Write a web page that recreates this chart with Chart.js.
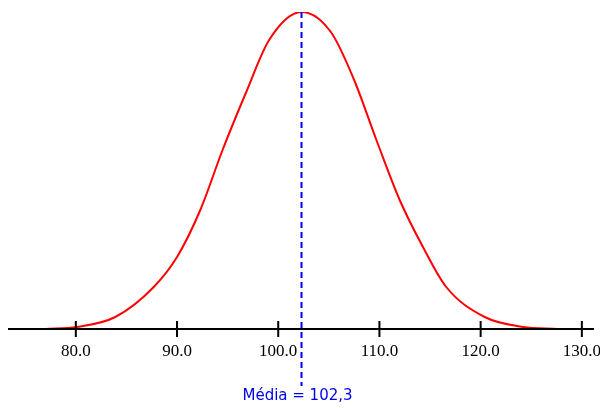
<!DOCTYPE html>
<html>
<head>
<meta charset="utf-8">
<script src="https://cdn.jsdelivr.net/npm/chart.js@4"></script>
<style>
  html, body { margin: 0; padding: 0; background: #fff; }
  #wrap { width: 600px; height: 408px; }
</style>
</head>
<body>
<div id="wrap"><canvas id="c"></canvas></div>
<script>
// values (x value, curve height)
const xValues = [77.0, 80.1, 83.9, 87.7, 90.0, 92.3, 94.5, 96.8, 99.1, 102.3, 105.2, 107.5, 109.7, 112.0, 114.3, 116.6, 120.4, 124.2, 127.6];
const heights = [0, 2, 12, 42, 72, 119, 179, 236, 289, 317, 297, 249, 189, 129, 82, 42, 12, 2, 0];
const tickValues = [80, 90, 100, 110, 120, 130];
const tickLabels = ["80.0", "90.0", "100.0", "110.0", "120.0", "130.0"];
const mean = 102.3;
const meanLabel = "Média = 102,3";

const axisPlugin = {
  id: "axisPlugin",
  afterDatasetsDraw(chart) {
    const ctx = chart.ctx;
    const x = chart.scales.x, y = chart.scales.y;
    const base = y.getPixelForValue(0);
    ctx.save();
    ctx.strokeStyle = "#000";
    ctx.lineWidth = 2;
    ctx.beginPath();
    ctx.moveTo(8, base);
    ctx.lineTo(594, base);
    tickValues.forEach(v => {
      const px = x.getPixelForValue(v);
      ctx.moveTo(px, base - 8);
      ctx.lineTo(px, base + 8);
    });
    ctx.stroke();
    ctx.fillStyle = "#000";
    ctx.font = "17px 'Liberation Serif'";
    ctx.textAlign = "center";
    ctx.textBaseline = "middle";
    tickValues.forEach((v, i) => {
      ctx.fillText(tickLabels[i], x.getPixelForValue(v), base + 23);
    });
    // mean line
    const mx = x.getPixelForValue(mean);
    ctx.strokeStyle = "#0000ee";
    ctx.lineWidth = 2;
    ctx.setLineDash([6, 4]);
    ctx.beginPath();
    ctx.moveTo(mx, y.getPixelForValue(317));
    ctx.lineTo(mx, 386);
    ctx.stroke();
    ctx.setLineDash([]);
    ctx.fillStyle = "#0000ee";
    ctx.font = "15px 'DejaVu Sans'";
    ctx.fillText(meanLabel, mx - 4, 396);
    ctx.restore();
  }
};

new Chart(document.getElementById("c"), {
  type: "line",
  data: {
    datasets: [{
      data: xValues.map((v, i) => ({ x: v, y: heights[i] })),
      borderColor: "#ff0000",
      borderWidth: 2,
      pointRadius: 0,
      cubicInterpolationMode: "monotone",
      fill: false
    }]
  },
  options: {
    responsive: true,
    maintainAspectRatio: false,
    animation: false,
    layout: { padding: { left: 8, right: 6, top: 12, bottom: 79 } },
    plugins: { legend: { display: false }, tooltip: { enabled: false } },
    scales: {
      x: { type: "linear", min: 73.3, max: 131.2, display: false },
      y: { min: 0, max: 317, display: false }
    }
  },
  plugins: [axisPlugin]
});
</script>
</body>
</html>
